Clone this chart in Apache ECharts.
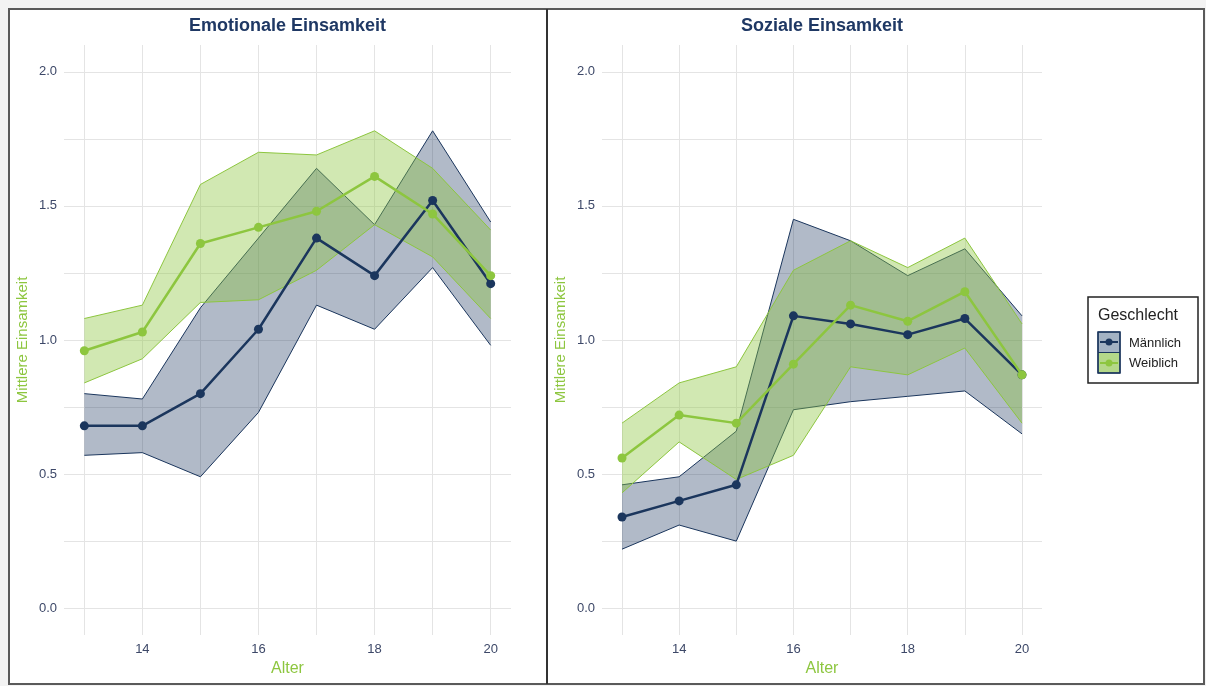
<!DOCTYPE html>
<html>
<head>
<meta charset="utf-8">
<script src="https://cdn.jsdelivr.net/npm/echarts@6/dist/echarts.min.js"></script>
<style>
html,body{margin:0;padding:0;background:#f3f3f3;}
#c{width:1206px;height:686px;}
</style>
</head>
<body>
<div id="c"></div>
<script>
// ---------- data ----------
const ages = [13, 14, 15, 16, 17, 18, 19, 20];
const xTicks = [14, 16, 18, 20];
const yTicks = [0, 0.5, 1.0, 1.5, 2.0];
const xGrid = [13, 14, 15, 16, 17, 18, 19, 20];
const yGrid = [0, 0.25, 0.5, 0.75, 1.0, 1.25, 1.5, 1.75, 2.0];

const panelTitles = ['Emotionale Einsamkeit', 'Soziale Einsamkeit'];
const groups = ['Männlich', 'Weiblich'];

// Emotionale Einsamkeit
const emoMMean = [0.68, 0.68, 0.80, 1.04, 1.38, 1.24, 1.52, 1.21];
const emoMLo   = [0.57, 0.58, 0.49, 0.73, 1.13, 1.04, 1.27, 0.98];
const emoMHi   = [0.80, 0.78, 1.12, 1.38, 1.64, 1.43, 1.78, 1.44];
const emoWMean = [0.96, 1.03, 1.36, 1.42, 1.48, 1.61, 1.47, 1.24];
const emoWLo   = [0.84, 0.93, 1.14, 1.15, 1.26, 1.43, 1.31, 1.08];
const emoWHi   = [1.08, 1.13, 1.58, 1.70, 1.69, 1.78, 1.64, 1.41];

// Soziale Einsamkeit
const sozMMean = [0.34, 0.40, 0.46, 1.09, 1.06, 1.02, 1.08, 0.87];
const sozMLo   = [0.22, 0.31, 0.25, 0.74, 0.77, 0.79, 0.81, 0.65];
const sozMHi   = [0.46, 0.49, 0.66, 1.45, 1.37, 1.24, 1.34, 1.09];
const sozWMean = [0.56, 0.72, 0.69, 0.91, 1.13, 1.07, 1.18, 0.87];
const sozWLo   = [0.43, 0.62, 0.48, 0.57, 0.90, 0.87, 0.97, 0.69];
const sozWHi   = [0.69, 0.84, 0.90, 1.26, 1.37, 1.27, 1.38, 1.06];

// ---------- style ----------
const NAVY = '#1b365d';
const GREEN = '#8dc63f';
const NAVY_FILL = 'rgba(27,54,93,0.34)';
const GREEN_FILL = 'rgba(141,198,63,0.40)';
const TICK_COLOR = '#3d4868';
const GRID_COLOR = '#e4e4e4';
const FONT = 'Liberation Sans, Arial, Helvetica, sans-serif';

const panels = [
  {m: [emoMMean, emoMLo, emoMHi], w: [emoWMean, emoWLo, emoWHi]},
  {m: [sozMMean, sozMLo, sozMHi], w: [sozWMean, sozWLo, sozWHi]}
];

const gridsPos = [
  {left: 64, top: 45, width: 447, height: 590},
  {left: 602, top: 45, width: 440, height: 590}
];

const pairs = (xs, ys) => xs.map((x, i) => [x, ys[i]]);

// ribbon drawn as one polygon through the axes' own scales
function ribbon(xs, lo, hi, fill, stroke) {
  return function (params, api) {
    if (params.dataIndex !== 0) return null;
    const up = xs.map((x, i) => api.coord([x, hi[i]]));
    const dn = xs.map((x, i) => api.coord([x, lo[i]]));
    const poly = up.concat(dn.slice().reverse());
    return {
      type: 'group',
      children: [
        {type: 'polygon', shape: {points: poly}, style: {fill: fill, stroke: null}},
        {type: 'polyline', shape: {points: up}, style: {fill: null, stroke: stroke, lineWidth: 1}},
        {type: 'polyline', shape: {points: dn}, style: {fill: null, stroke: stroke, lineWidth: 1}}
      ]
    };
  };
}

const grids = [], xAxes = [], yAxes = [], series = [], titles = [];

panels.forEach((p, i) => {
  grids.push(Object.assign({containLabel: false}, gridsPos[i]));
  xAxes.push({
    type: 'value', gridIndex: i, min: 12.65, max: 20.35,
    name: 'Alter', nameLocation: 'middle', nameGap: 26,
    nameTextStyle: {color: GREEN, fontSize: 16, fontFamily: FONT},
    axisLine: {show: false}, axisTick: {show: false},
    splitLine: {show: false},
    axisLabel: {customValues: xTicks, color: TICK_COLOR, fontSize: 13, fontFamily: FONT, margin: 8,
      formatter: v => String(v)}
  });
  yAxes.push({
    type: 'value', gridIndex: i, min: -0.1, max: 2.1,
    name: 'Mittlere Einsamkeit', nameLocation: 'middle', nameGap: 34,
    nameTextStyle: {color: GREEN, fontSize: 15, fontFamily: FONT},
    axisLine: {show: false}, axisTick: {show: false},
    splitLine: {show: false},
    axisLabel: {customValues: yTicks, color: TICK_COLOR, fontSize: 13, fontFamily: FONT, margin: 7,
      formatter: v => v.toFixed(1)}
  });
  const g = gridsPos[i];
  titles.push({
    text: panelTitles[i], left: g.left + g.width / 2, top: 17, textAlign: 'center', padding: 0,
    textStyle: {color: '#1f3864', fontSize: 18, fontWeight: 'bold', fontFamily: FONT}
  });

  const gridLines = xGrid.map(v => ({xAxis: v})).concat(yGrid.map(v => ({yAxis: v})));

  // Männlich ribbon (also carries the panel grid lines)
  series.push({
    type: 'custom', xAxisIndex: i, yAxisIndex: i, z: 2, silent: true, clip: false,
    data: pairs(ages, p.m[0]),
    renderItem: ribbon(ages, p.m[1], p.m[2], NAVY_FILL, NAVY),
    markLine: {silent: true, symbol: 'none', label: {show: false},
      lineStyle: {color: GRID_COLOR, width: 1, type: 'solid'}, data: gridLines, z: 1, animation: false}
  });
  // Weiblich ribbon
  series.push({
    type: 'custom', xAxisIndex: i, yAxisIndex: i, z: 3, silent: true, clip: false,
    data: pairs(ages, p.w[0]),
    renderItem: ribbon(ages, p.w[1], p.w[2], GREEN_FILL, GREEN)
  });
  // mean lines
  series.push({
    type: 'line', name: groups[0], xAxisIndex: i, yAxisIndex: i, z: 4,
    data: pairs(ages, p.m[0]), symbol: 'circle', symbolSize: 9,
    lineStyle: {color: NAVY, width: 2.5}, itemStyle: {color: NAVY}
  });
  series.push({
    type: 'line', name: groups[1], xAxisIndex: i, yAxisIndex: i, z: 5,
    data: pairs(ages, p.w[0]), symbol: 'circle', symbolSize: 9,
    lineStyle: {color: GREEN, width: 2.5}, itemStyle: {color: GREEN}
  });
});

// legend + frame as graphics
const legendX = 1088, legendY = 297;
const graphic = [
  {type: 'rect', shape: {x: 9, y: 9, width: 1195, height: 675}, style: {fill: '#ffffff', stroke: '#5a5a5a', lineWidth: 2}, z: -10, silent: true},
  {type: 'line', shape: {x1: 547, y1: 9, x2: 547, y2: 684}, style: {stroke: '#333333', lineWidth: 2}, z: 100, silent: true},
  {type: 'rect', shape: {x: legendX, y: legendY, width: 110, height: 86}, style: {fill: '#ffffff', stroke: '#222222', lineWidth: 1.5}, z: 100},
  {type: 'text', x: legendX + 10, y: legendY + 19, style: {text: 'Geschlecht', fill: '#222222', font: '16px ' + FONT, verticalAlign: 'middle'}, z: 101},
  {type: 'rect', shape: {x: legendX + 10, y: legendY + 35, width: 22, height: 41}, style: {fill: 'none', stroke: NAVY, lineWidth: 1.5}, z: 102},
  {type: 'rect', shape: {x: legendX + 10, y: legendY + 35, width: 22, height: 20.5}, style: {fill: '#a3b2c3', stroke: NAVY, lineWidth: 1}, z: 101},
  {type: 'line', shape: {x1: legendX + 12, y1: legendY + 45, x2: legendX + 30, y2: legendY + 45}, style: {stroke: NAVY, lineWidth: 2}, z: 103},
  {type: 'circle', shape: {cx: legendX + 21, cy: legendY + 45, r: 3.5}, style: {fill: NAVY}, z: 103},
  {type: 'rect', shape: {x: legendX + 10, y: legendY + 55.5, width: 22, height: 20.5}, style: {fill: '#b4d889', stroke: NAVY, lineWidth: 1}, z: 101},
  {type: 'line', shape: {x1: legendX + 12, y1: legendY + 66, x2: legendX + 30, y2: legendY + 66}, style: {stroke: GREEN, lineWidth: 2}, z: 103},
  {type: 'circle', shape: {cx: legendX + 21, cy: legendY + 66, r: 3.5}, style: {fill: GREEN}, z: 103},
  {type: 'text', x: legendX + 41, y: legendY + 46, style: {text: groups[0], fill: '#222222', font: '13px ' + FONT, verticalAlign: 'middle'}, z: 101},
  {type: 'text', x: legendX + 41, y: legendY + 66, style: {text: groups[1], fill: '#222222', font: '13px ' + FONT, verticalAlign: 'middle'}, z: 101}
];

const chart = echarts.init(document.getElementById('c'), null, {renderer: 'canvas'});
chart.setOption({
  animation: false,
  backgroundColor: '#f3f3f3',
  title: titles,
  grid: grids,
  xAxis: xAxes,
  yAxis: yAxes,
  series: series,
  graphic: graphic
});
</script>
</body>
</html>
